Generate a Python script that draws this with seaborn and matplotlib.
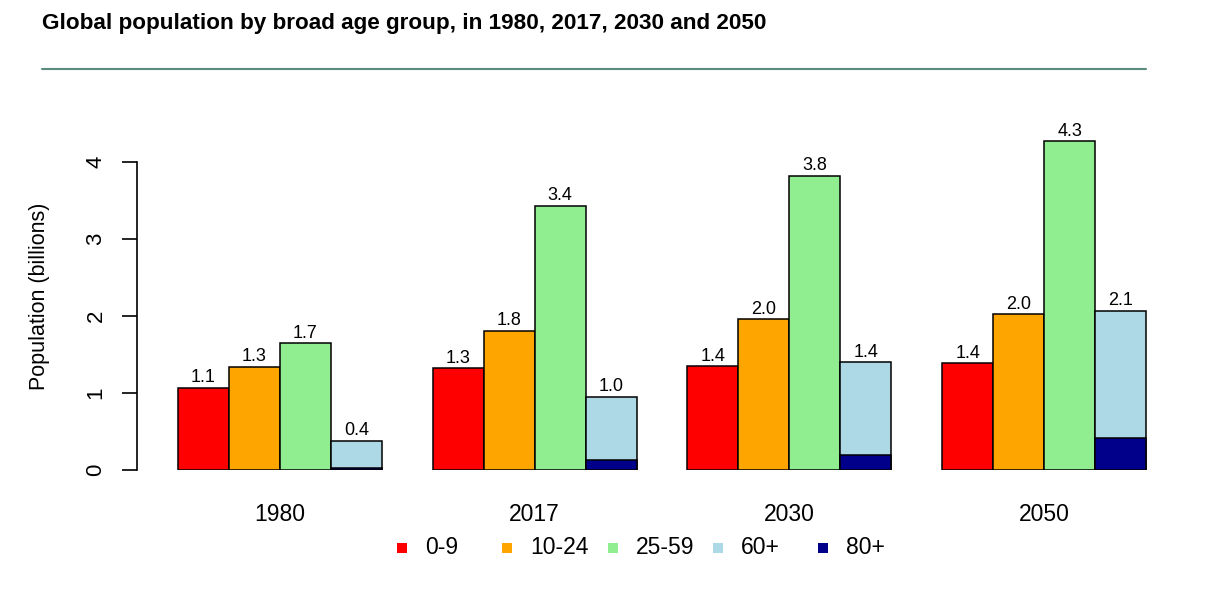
import matplotlib
matplotlib.use('Agg')
import matplotlib.pyplot as plt
import seaborn as sns
import pandas as pd
from matplotlib.lines import Line2D
from matplotlib.patches import Rectangle

years = ['1980', '2017', '2030', '2050']
groups = ['0-9', '10-24', '25-59', '60+']
pop_0_9 = [1.07, 1.32, 1.35, 1.39]
pop_10_24 = [1.34, 1.81, 1.96, 2.02]
pop_25_59 = [1.65, 3.43, 3.82, 4.27]
pop_60_plus = [0.38, 0.95, 1.40, 2.07]
pop_80_plus = [0.03, 0.13, 0.20, 0.42]
labels_main = ['1.1', '1.3', '1.7', '0.4',
               '1.3', '1.8', '3.4', '1.0',
               '1.4', '2.0', '3.8', '1.4',
               '1.4', '2.0', '4.3', '2.1']
legend_labels = ['0-9', '10-24', '25-59', '60+', '80+']

colors = {'0-9': '#ff0000', '10-24': '#ffa500', '25-59': '#90ee90', '60+': '#add8e6'}
color_80 = '#00008b'

rows = []
for i, y in enumerate(years):
    for g, vals in zip(groups, [pop_0_9, pop_10_24, pop_25_59, pop_60_plus]):
        rows.append({'year': y, 'group': g, 'value': vals[i]})
df = pd.DataFrame(rows)

rows80 = []
for i, y in enumerate(years):
    for g in groups:
        rows80.append({'year': y, 'group': g, 'value': pop_80_plus[i] if g == '60+' else 0.0})
df80 = pd.DataFrame(rows80)

sns.set_style('white')
plt.rcParams['font.family'] = ['Liberation Sans', 'DejaVu Sans']
plt.rcParams.update({'text.color': 'black', 'axes.labelcolor': 'black',
                     'xtick.color': 'black', 'ytick.color': 'black',
                     'axes.edgecolor': 'black'})

fig = plt.figure(figsize=(12.08, 5.98), dpi=100)
ax = fig.add_axes([137 / 1208, 128 / 598, 1023 / 1208, 346.5 / 598])

sns.barplot(data=df, x='year', y='value', hue='group', order=years, hue_order=groups,
            palette=colors, saturation=1, edgecolor='black', linewidth=1.1,
            legend=False, ax=ax, width=0.8)
sns.barplot(data=df80, x='year', y='value', hue='group', order=years, hue_order=groups,
            palette={g: color_80 for g in groups}, saturation=1, edgecolor='black',
            linewidth=1.1, legend=False, ax=ax, width=0.8)

# hide the zero-height overlay bars
for p in ax.patches:
    if p.get_height() == 0:
        p.set_visible(False)

# value labels above main bars
main_patches = sorted(ax.patches[:16], key=lambda p: p.get_x())
for p, lab in zip(main_patches, labels_main):
    ax.text(p.get_x() + p.get_width() / 2, p.get_height() + 0.07, lab,
            ha='center', va='baseline', fontsize=13, color='black')

ax.set_xlim(-0.561, 3.455)
ax.set_ylim(0, 4.5)
ax.set_yticks([0, 1, 2, 3, 4])
ax.set_yticklabels(['0', '1', '2', '3', '4'])
ax.tick_params(axis='y', length=11, width=1.2, pad=11, left=True, labelsize=16,
               labelrotation=90, colors='black')
for t in ax.get_yticklabels():
    t.set_va('center')
ax.tick_params(axis='x', length=0, pad=24, labelsize=16.5, colors='black')
for s in ['top', 'right', 'bottom']:
    ax.spines[s].set_visible(False)
ax.spines['left'].set_bounds(0, 4)
ax.spines['left'].set_linewidth(1.2)
ax.spines['left'].set_color('black')
ax.set_xlabel('')
ax.set_ylabel('Population (billions)', fontsize=15.5, color='black')
ax.yaxis.set_label_coords(-0.085, 0.5)

# legend laid out with equal spacing, like the original
leg_colors = [colors['0-9'], colors['10-24'], colors['25-59'], colors['60+'], color_80]
y_leg = 1 - 548 / 598
for k, (c, lab) in enumerate(zip(leg_colors, legend_labels)):
    xs = (397 + 105.3 * k) / 1208
    fig.add_artist(Rectangle((xs, y_leg - 5 / 598), 10 / 1208, 10 / 598,
                             facecolor=c, edgecolor='none', transform=fig.transFigure))
    fig.text(xs + 28 / 1208, y_leg, lab, fontsize=16.5, ha='left', va='center', color='black')

fig.text(42 / 1208, 1 - 23 / 598, 'Global population by broad age group, in 1980, 2017, 2030 and 2050',
         fontsize=16.2, fontweight='bold', ha='left', va='center', color='black')
fig.add_artist(Line2D([42 / 1208, 1146 / 1208], [1 - 69 / 598, 1 - 69 / 598],
                      color='#5b8a7e', linewidth=1.5, transform=fig.transFigure))

fig.savefig('out.png', dpi=100)
